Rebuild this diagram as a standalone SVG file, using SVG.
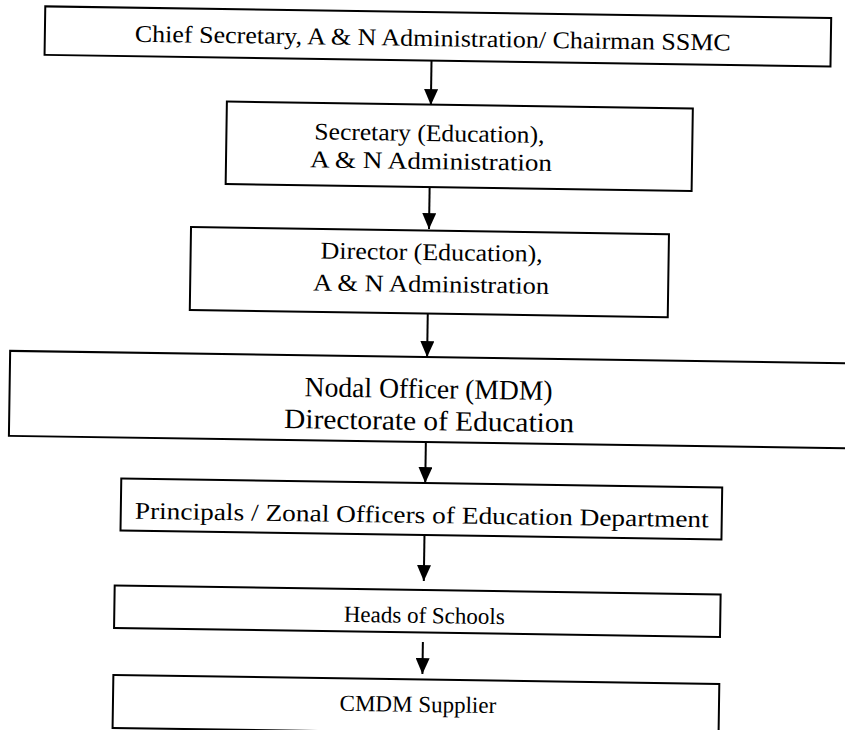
<svg xmlns="http://www.w3.org/2000/svg" width="845" height="730" viewBox="0 0 845 730">
<defs>
<marker id="ah" markerWidth="16" markerHeight="14" refX="16" refY="7" orient="auto" markerUnits="userSpaceOnUse" viewBox="0 0 16 14">
<path d="M0,0 L16,7 L0,14 Z" fill="#000"/>
</marker>
<style>
rect.box{fill:#fff;stroke:#000;stroke-width:2}
text{font-family:"Liberation Serif","DejaVu Serif",serif;fill:#000;text-anchor:middle}
.t1{font-size:24px}
.t2{font-size:28px}
.t3{font-size:23px}
line.c{stroke:#000;stroke-width:2}
</style>
</defs>
<rect width="845" height="730" fill="#fff"/>
<g transform="rotate(0.85 422 365)">
<g id="connectors">
<line class="c" x1="427" y1="61" x2="427" y2="105" marker-end="url(#ah)"/>
<line class="c" x1="427" y1="187" x2="427" y2="229" marker-end="url(#ah)"/>
<line class="c" x1="427" y1="314" x2="427" y2="357" marker-end="url(#ah)"/>
<line class="c" x1="427" y1="442" x2="427" y2="483" marker-end="url(#ah)"/>
<line class="c" x1="427" y1="535" x2="427" y2="581" marker-end="url(#ah)"/>
<line class="c" x1="427" y1="642" x2="427" y2="674" marker-end="url(#ah)"/>
</g>
<g id="n1">
<rect class="box" x="40" y="12" width="786" height="48.5"/>
<text class="t1" x="428" y="46" textLength="596" lengthAdjust="spacingAndGlyphs">Chief Secretary, A &amp; N Administration/ Chairman SSMC</text>
</g>
<g id="n2">
<rect class="box" x="223" y="104.5" width="466" height="82.5"/>
<text class="t1" x="426" y="141" textLength="230" lengthAdjust="spacingAndGlyphs">Secretary (Education),</text>
<text class="t1" x="428" y="169" textLength="242" lengthAdjust="spacingAndGlyphs">A &amp; N Administration</text>
</g>
<g id="n3">
<rect class="box" x="189" y="230.5" width="478" height="83"/>
<text class="t1" x="430" y="260" textLength="222" lengthAdjust="spacingAndGlyphs">Director (Education),</text>
<text class="t1" x="430" y="292" textLength="236" lengthAdjust="spacingAndGlyphs">A &amp; N Administration</text>
</g>
<g id="n4">
<rect class="box" x="10" y="357" width="860" height="85"/>
<text class="t2" x="429" y="398" textLength="248" lengthAdjust="spacingAndGlyphs">Nodal Officer (MDM)</text>
<text class="t2" x="430" y="430" textLength="290" lengthAdjust="spacingAndGlyphs">Directorate of Education</text>
</g>
<g id="n5">
<rect class="box" x="123" y="483" width="601" height="52"/>
<text class="t1" x="424" y="523" textLength="574" lengthAdjust="spacingAndGlyphs">Principals / Zonal Officers of Education Department</text>
</g>
<g id="n6">
<rect class="box" x="118" y="590" width="606" height="42.5"/>
<text class="t3" x="428" y="623">Heads of Schools</text>
</g>
<g id="n7">
<rect class="box" x="118" y="679.5" width="606" height="53"/>
<text class="t3" x="423" y="712">CMDM Supplier</text>
</g>
</g>
</svg>
